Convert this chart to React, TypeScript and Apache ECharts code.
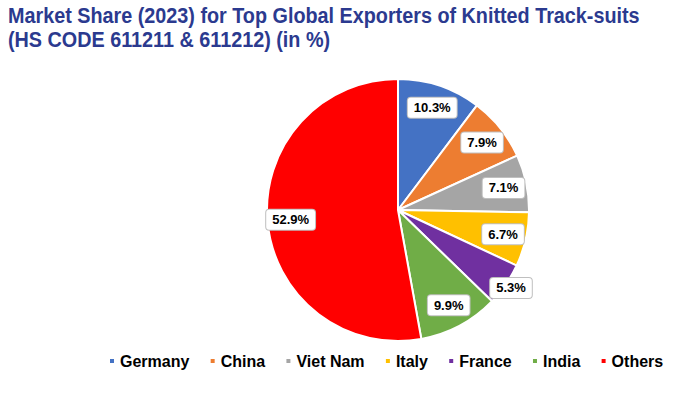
import React, { useEffect, useRef } from "react";
import * as echarts from "echarts";

const categories = ["Germany", "China", "Viet Nam", "Italy", "France", "India", "Others"];
const shares = [10.3, 7.9, 7.1, 6.7, 5.3, 9.9, 52.9];
const colors = ["#4472C4", "#ED7D31", "#A5A5A5", "#FFC000", "#7030A0", "#70AD47", "#FF0000"];
const titleLines = [
  "Market Share (2023) for Top Global Exporters of Knitted Track-suits",
  "(HS CODE 611211 & 611212) (in %)",
];
const farLabel = ["France"];

export default function App() {
  const ref = useRef<HTMLDivElement>(null);
  useEffect(() => {
    document.body.style.margin = "0";
    if (!ref.current) return;
    const chart = echarts.init(ref.current, null, { renderer: "svg" });
    const center = [398, 210];
    const R = 131;
    const labelStyle = {
      show: true,
      position: "inside",
      formatter: (p: any) => p.value.toFixed(1) + "%",
      color: "#000",
      fontFamily: "Liberation Sans, Arial, sans-serif",
      fontWeight: "bold",
      fontSize: 13,
      backgroundColor: "#fff",
      borderColor: "#BFBFBF",
      borderWidth: 1,
      borderRadius: 3,
      padding: [4, 6, 3, 6],
    };
    const mainData = categories.map((c, i) => ({
      name: c,
      value: shares[i],
      itemStyle: { color: colors[i] },
    }));
    const overlayData = (far: boolean) =>
      categories.map((c, i) => ({
        name: c,
        value: shares[i],
        itemStyle: { color: "rgba(0,0,0,0)", borderWidth: 0 },
        label: { show: far ? farLabel.includes(c) : !farLabel.includes(c) },
      }));
    chart.setOption({
      animation: false,
      graphic: titleLines.map((t, i) => ({
        type: "text",
        x: 8,
        y: 4 + i * 24,
        scaleX: 0.9,
        style: {
          text: t,
          fill: "#2B3A8F",
          textBaseline: "top",
          font: "bold 22px 'Liberation Sans', Arial, sans-serif",
        },
      })),
      legend: {
        data: categories,
        left: 103,
        top: 348,
        itemWidth: 6,
        itemHeight: 6,
        itemGap: 19.3,
        icon: "rect",
        textStyle: {
          color: "#000",
          fontFamily: "Liberation Sans, Arial, sans-serif",
          fontWeight: "bold",
          fontSize: 16,
        },
      },
      series: [
        {
          type: "pie",
          center,
          radius: [0, R],
          startAngle: 90,
          clockwise: true,
          label: { show: false },
          labelLine: { show: false },
          itemStyle: { borderColor: "#fff", borderWidth: 2 },
          emphasis: { disabled: true },
          data: mainData,
        },
        {
          type: "pie",
          center,
          radius: [0, R * 1.6],
          startAngle: 90,
          clockwise: true,
          silent: true,
          label: labelStyle,
          labelLine: { show: false },
          emphasis: { disabled: true },
          data: overlayData(false),
        },
        {
          type: "pie",
          center,
          radius: [0, R * 2.05],
          startAngle: 90,
          clockwise: true,
          silent: true,
          label: labelStyle,
          labelLine: { show: false },
          emphasis: { disabled: true },
          data: overlayData(true),
        },
      ],
    });
    return () => chart.dispose();
  }, []);
  return <div ref={ref} style={{ width: 690, height: 393 }} />;
}
